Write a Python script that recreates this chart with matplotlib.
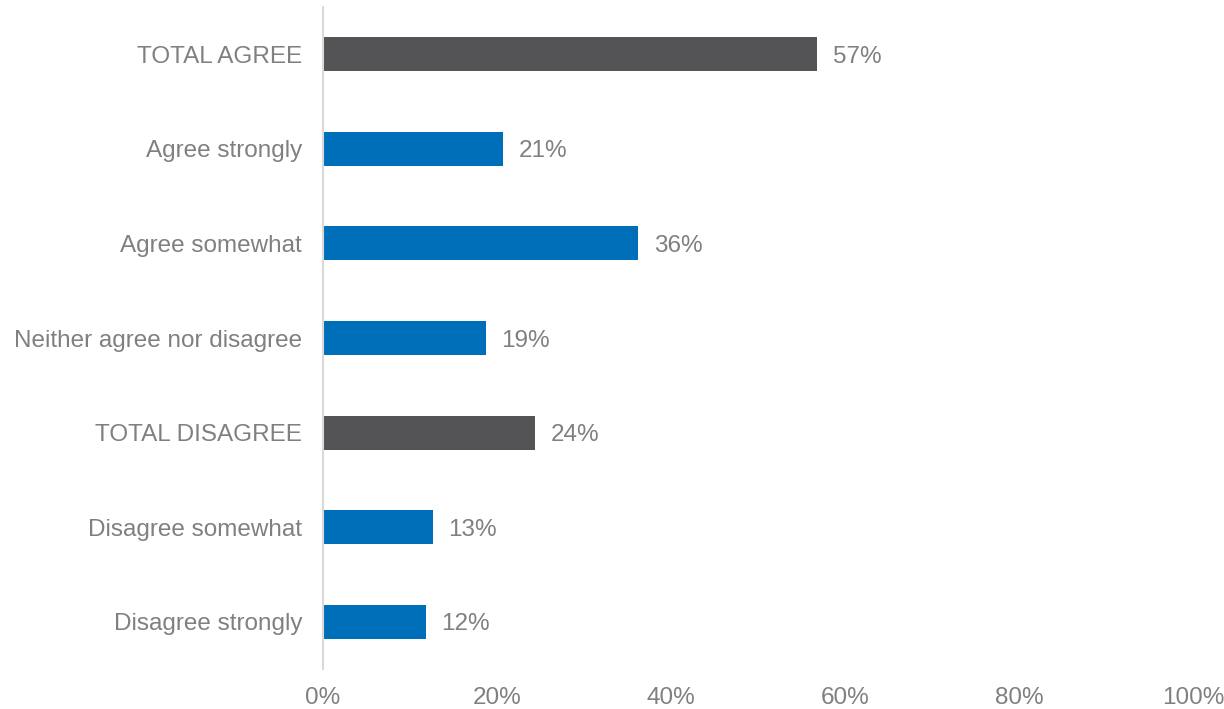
import matplotlib.pyplot as plt

categories = ["TOTAL AGREE", "Agree strongly", "Agree somewhat",
              "Neither agree nor disagree", "TOTAL DISAGREE",
              "Disagree somewhat", "Disagree strongly"]
values = [56.8, 20.7, 36.2, 18.7, 24.4, 12.6, 11.8]
labels = ["57%", "21%", "36%", "19%", "24%", "13%", "12%"]
is_total = [True, False, False, False, True, False, False]
xticks = [0, 20, 40, 60, 80, 100]

plt.rcParams['font.family'] = ['Liberation Sans', 'DejaVu Sans']
text_color = "#808080"
colors = ["#545456" if t else "#006FBA" for t in is_total]
fs = 17.5

fig = plt.figure(figsize=(12.24, 7.09), dpi=100)
ax = fig.add_axes([323/1224, 1 - 669/709, 870/1224, 662/709])

y = list(range(len(categories)))
ax.barh(y, values, height=0.36, color=colors)
for yi, v, lab in zip(y, values, labels):
    ax.text(v + 1.8, yi, lab, va="center_baseline", ha="left", fontsize=fs, color=text_color)

ax.set_xlim(0, 100)
ax.set_ylim(len(categories) - 0.5, -0.5)
ax.set_yticks(y)
ax.set_yticklabels(categories, fontsize=fs, color=text_color)
ax.set_xticks(xticks)
ax.set_xticklabels([f"{t}%" for t in xticks], fontsize=fs, color=text_color)
ax.tick_params(axis="both", length=0)
ax.tick_params(axis="y", pad=15)
ax.tick_params(axis="x", pad=13)

for s in ["top", "right", "bottom"]:
    ax.spines[s].set_visible(False)
ax.spines["left"].set_color("#d9d9d9")
ax.spines["left"].set_linewidth(1.5)

fig.savefig("out.png", dpi=100)
